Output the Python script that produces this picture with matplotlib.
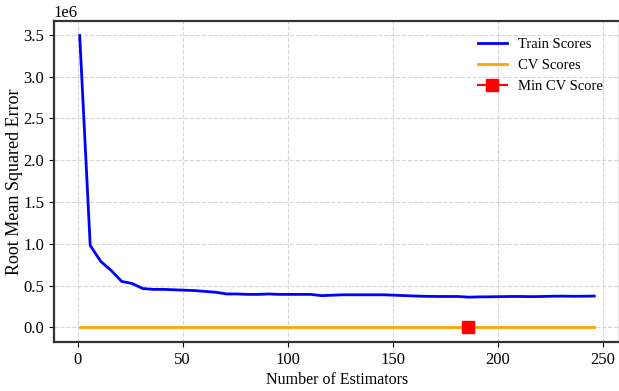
import matplotlib
matplotlib.use("Agg")
import matplotlib.pyplot as plt

plt.rcParams['font.family'] = ['Liberation Serif', 'DejaVu Serif']

# number of estimators tried in the search
n_estimators = [1, 6, 11, 16, 21, 26, 31, 36, 41, 46,
                51, 56, 61, 66, 71, 76, 81, 86, 91, 96,
                101, 106, 111, 116, 121, 126, 131, 136, 141, 146,
                151, 156, 161, 166, 171, 176, 181, 186, 191, 196,
                201, 206, 211, 216, 221, 226, 231, 236, 241, 246]

# RMSE on the training set
train_scores = [3.49e6, 0.98e6, 0.79e6, 0.68e6, 0.55e6, 0.525e6, 0.465e6, 0.455e6, 0.455e6, 0.45e6,
                0.445e6, 0.44e6, 0.43e6, 0.42e6, 0.40e6, 0.40e6, 0.395e6, 0.395e6, 0.40e6, 0.395e6,
                0.395e6, 0.395e6, 0.395e6, 0.38e6, 0.385e6, 0.39e6, 0.39e6, 0.39e6, 0.39e6, 0.39e6,
                0.385e6, 0.38e6, 0.375e6, 0.372e6, 0.37e6, 0.37e6, 0.37e6, 0.362e6, 0.365e6, 0.366e6,
                0.368e6, 0.37e6, 0.37e6, 0.368e6, 0.37e6, 0.373e6, 0.374e6, 0.372e6, 0.373e6, 0.375e6]

# RMSE from cross validation
cv_scores = [0.0, 0.0, 0.0, 0.0, 0.0, 0.0, 0.0, 0.0, 0.0, 0.0,
             0.0, 0.0, 0.0, 0.0, 0.0, 0.0, 0.0, 0.0, 0.0, 0.0,
             0.0, 0.0, 0.0, 0.0, 0.0, 0.0, 0.0, 0.0, 0.0, 0.0,
             0.0, 0.0, 0.0, 0.0, 0.0, 0.0, 0.0, 0.0, 0.0, 0.0,
             0.0, 0.0, 0.0, 0.0, 0.0, 0.0, 0.0, 0.0, 0.0, 0.0]

best_n = 186
best_cv = 0.0

fig = plt.figure(figsize=(6.19, 3.91), dpi=100)
ax = fig.add_axes([0.0872, 0.1253, 0.9144, 0.821])

ax.plot(n_estimators, train_scores, color='blue', linewidth=2, label='Train Scores')
ax.plot(n_estimators, cv_scores, color='orange', linewidth=2, label='CV Scores')
ax.plot(best_n, best_cv, marker='s', color='red', markersize=8, label='Min CV Score')

ax.set_xlabel('Number of Estimators', fontsize=11.5, labelpad=3)
ax.set_ylabel('Root Mean Squared Error', fontsize=13, labelpad=0)
ax.tick_params(labelsize=12)
ax.grid(True, linestyle='--', color='#cccccc', alpha=0.8)

for side in ['top', 'bottom', 'left', 'right']:
    ax.spines[side].set_linewidth(1.6)
    ax.spines[side].set_color('#333333')

ax.yaxis.get_offset_text().set_fontsize(12)
ax.legend(loc='upper right', frameon=False, fontsize=10.5,
          labelspacing=0.55, borderaxespad=0.75, handlelength=2.0)

plt.savefig('out.png', dpi=100)
